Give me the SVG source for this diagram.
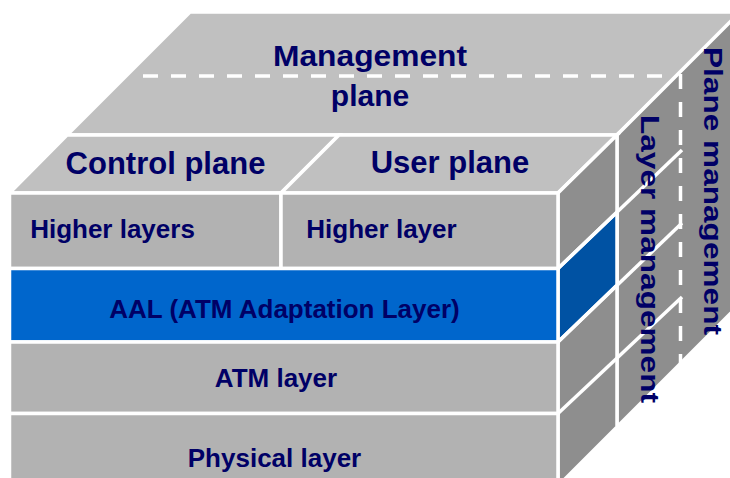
<svg xmlns="http://www.w3.org/2000/svg" width="730" height="478" viewBox="0 0 730 478">
  <style>
    .top { fill: #C0C0C0; stroke: #FFFFFF; stroke-width: 3.5; stroke-linejoin: miter; }
    .front { fill: #B2B2B2; stroke: #FFFFFF; stroke-width: 3.5; }
    .blue { fill: #0066CC; stroke: #FFFFFF; stroke-width: 3.5; }
    .side { fill: #8E8E8E; stroke: #FFFFFF; stroke-width: 3.5; }
    .sideblue { fill: #0052A3; stroke: #FFFFFF; stroke-width: 3.5; }
    .edge { stroke: #FFFFFF; stroke-width: 3.5; fill: none; }
    .dash { stroke: #FFFFFF; stroke-width: 3.5; fill: none; stroke-dasharray: 15 13; }
    text { font-family: "Liberation Sans", Arial, sans-serif; font-weight: bold; fill: #000066; }
    .big { font-size: 31px; text-anchor: middle; }
    .mid { font-size: 26px; text-anchor: middle; }
    .vert { font-size: 26px; }
  </style>
  <rect x="0" y="0" width="730" height="478" fill="#FFFFFF"/>

  <g id="management-plane">
    <polygon class="top" points="190,12 742,12 617,135 67,135"/>
    <polygon class="side" points="617,135 742,10 742,302 617,427"/>
    <text class="big" x="370" y="66" style="font-size:30px" textLength="194" lengthAdjust="spacingAndGlyphs">Management</text>
    <text class="big" x="370" y="106" style="font-size:30px">plane</text>
  </g>

  <g id="control-plane">
    <polygon class="top" points="9.5,193 67,135 339,135 281,193"/>
    <text class="big" x="165.5" y="174">Control plane</text>
  </g>

  <g id="user-plane">
    <polygon class="top" points="281,193 339,135 617,135 558,193"/>
    <text class="big" x="450" y="173">User plane</text>
  </g>

  <g id="front-side">
    <polygon class="side" points="558,193 617,135 617,427 558,486"/>
    <polygon class="sideblue" points="558,268.5 617,212 617,285 558,342"/>
  </g>

  <g id="higher-layers">
    <rect class="front" x="9.5" y="193" width="271.5" height="75.5"/>
    <text class="mid" x="112.5" y="238">Higher layers</text>
  </g>

  <g id="higher-layer">
    <rect class="front" x="281" y="193" width="277" height="75.5"/>
    <text class="mid" x="381.5" y="238">Higher layer</text>
  </g>

  <g id="aal">
    <rect class="blue" x="9.5" y="268.5" width="548.5" height="73.5"/>
    <text class="mid" x="284.5" y="318">AAL (ATM Adaptation Layer)</text>
  </g>

  <g id="atm-layer">
    <rect class="front" x="9.5" y="342" width="548.5" height="71.5"/>
    <text class="mid" x="276" y="387">ATM layer</text>
  </g>

  <g id="physical-layer">
    <rect class="front" x="9.5" y="413.5" width="548.5" height="80"/>
    <text class="mid" x="274.5" y="467">Physical layer</text>
  </g>

  <g id="connectors">
    <line class="edge" x1="558" y1="268.5" x2="682" y2="150"/>
    <line class="edge" x1="558" y1="342" x2="682" y2="223"/>
    <line class="edge" x1="558" y1="413.5" x2="682" y2="297"/>
    <line class="dash" x1="143" y1="76" x2="668" y2="76"/>
    <line class="dash" x1="680.5" y1="74" x2="680.5" y2="364"/>
  </g>

  <g id="layer-management">
    <text class="vert" transform="translate(641,115) rotate(90)" x="0" y="0" textLength="288" lengthAdjust="spacingAndGlyphs">Layer management</text>
  </g>

  <g id="plane-management">
    <text class="vert" transform="translate(704,47) rotate(90)" x="0" y="0" textLength="288" lengthAdjust="spacingAndGlyphs">Plane management</text>
  </g>
</svg>
